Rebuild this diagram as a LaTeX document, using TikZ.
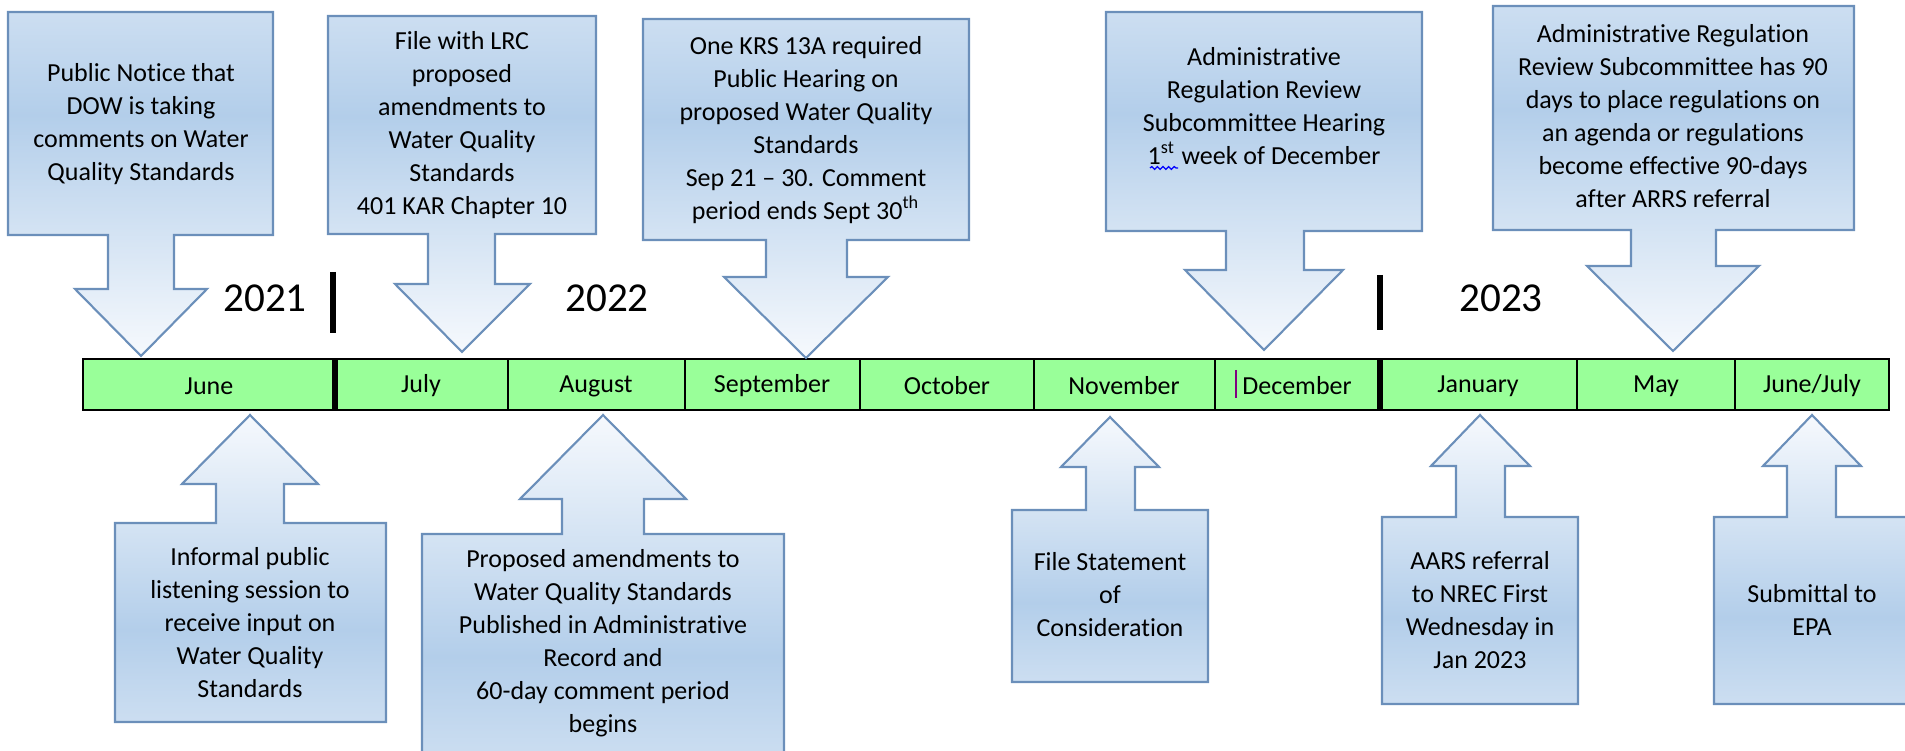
\documentclass[tikz,border=0pt]{standalone}
\usepackage{fontspec}
\setmainfont{Carlito}[Ligatures={NoCommon,NoContextual}]
\usetikzlibrary{decorations.pathmorphing}

\definecolor{calloutline}{HTML}{6B8FBA}
\definecolor{callouttop}{HTML}{CCDEF1}
\definecolor{calloutmid}{HTML}{B3CEEA}
\definecolor{callouttip}{HTML}{F6F9FD}
\definecolor{bargreen}{HTML}{99FF99}
\pgfdeclareverticalshading{calloutshade}{100bp}{color(0bp)=(callouttip); color(25bp)=(callouttip); color(60bp)=(calloutmid); color(75bp)=(callouttop); color(100bp)=(callouttop)}

\tikzset{
  callout/.style={draw=calloutline, line width=0.6pt, shading=calloutshade},
  upcallout/.style={callout, shading angle=180},
  calltext/.style={align=center, font=\fontsize{7.4}{9.4}\selectfont},
  month/.style={font=\fontsize{7.4}{9.4}\selectfont},
  yearlabel/.style={font=\fontsize{11.7}{14}\selectfont},
  yearbar/.style={line width=1.5pt},
}

\begin{document}
\begin{tikzpicture}[x=0.1mm, y=0.1mm]
\tikzstyle{every node}+=[inner sep=0pt]
\useasboundingbox (0,0) rectangle (1905,-751);
\clip (0,0) rectangle (1905,-751);
% timeline bar
\draw [black, fill=bargreen, line width=0.75pt] (83,-359) rectangle (1889,-410);
\draw [black, line width=0.4pt] (508,-359) -- (508,-410) (685,-359) -- (685,-410) (860,-359) -- (860,-410) (1034,-359) -- (1034,-410) (1215,-359) -- (1215,-410) (1577,-359) -- (1577,-410) (1735,-359) -- (1735,-410);
\draw [black, line width=1.6pt] (335,-359) -- (335,-410) (1380,-359) -- (1380,-410);
\node [month] (jun) at (209,-386) {June};
\node [month] (jul) at (421,-386) {July};
\node [month] (aug) at (596,-386) {August};
\node [month] (sep) at (772,-386) {September};
\node [month] (oct) at (947,-386) {October};
\node [month] (nov) at (1124,-386) {November};
\node [month] (dec) at (1297,-386) {December};
\node [month] (jan) at (1478,-386) {January};
\node [month] (may) at (1656,-386) {May};
\node [month] (junjul) at (1812,-386) {June/July};
\draw [violet, line width=0.4pt] (1236,-370) -- (1236,-398);
% years
\node [yearlabel] (y2021) at (265,-298) {2021};
\node [yearlabel] (y2022) at (607,-298) {2022};
\node [yearlabel] (y2023) at (1501,-298) {2023};
\draw [yearbar] (333,-272) -- (333,-333);
\draw [yearbar] (1380,-275) -- (1380,-330);
% callouts above
\draw [callout] (8,-12) -- (273,-12) -- (273,-235) -- (174,-235) -- (174,-289) -- (207,-289) -- (141,-356) -- (75,-289) -- (108,-289) -- (108,-235) -- (8,-235) -- cycle;
\node [calltext] (pubnotice) at (141,-124) {Public Notice that\\DOW is taking\\comments on Water\\Quality Standards};
\draw [callout] (328,-16) -- (596,-16) -- (596,-234) -- (495,-234) -- (495,-284) -- (530,-284) -- (462,-352) -- (395,-284) -- (428,-284) -- (428,-234) -- (328,-234) -- cycle;
\node [calltext] (filelrc) at (462,-125) {File with LRC\\proposed\\amendments to\\Water Quality\\Standards\\401 KAR Chapter 10};
\draw [callout] (643,-19) -- (969,-19) -- (969,-240) -- (847,-240) -- (847,-277) -- (888,-277) -- (806,-358) -- (724,-277) -- (766,-277) -- (766,-240) -- (643,-240) -- cycle;
\node [calltext] (hearing) at (806,-130) {One KRS 13A required\\Public Hearing on\\proposed Water Quality\\Standards\\Sep 21 – 30. Comment\\period ends Sept 30\textsuperscript{th}};
\draw [callout] (1106,-12) -- (1422,-12) -- (1422,-231) -- (1304,-231) -- (1304,-270) -- (1343,-270) -- (1264,-350) -- (1185,-270) -- (1226,-270) -- (1226,-231) -- (1106,-231) -- cycle;
\node [calltext] (arrshearing) at (1264,-106) {Administrative\\Regulation Review\\Subcommittee Hearing\\1\textsuperscript{st} week of December};
\draw [blue, line width=0.35pt, decorate, decoration={snake, segment length=1.6pt, amplitude=0.4pt}] (1150,-168) -- (1178,-168);
\draw [callout] (1493,-6) -- (1854,-6) -- (1854,-230) -- (1716,-230) -- (1716,-266) -- (1759,-266) -- (1673,-351) -- (1587,-266) -- (1631,-266) -- (1631,-230) -- (1493,-230) -- cycle;
\node [calltext] (arrsreview) at (1673,-116) {Administrative Regulation\\Review Subcommittee has 90\\days to place regulations on\\an agenda or regulations\\become effective 90-days\\after ARRS referral};
% callouts below
\draw [upcallout] (250,-415) -- (318,-484) -- (284,-484) -- (284,-523) -- (386,-523) -- (386,-722) -- (115,-722) -- (115,-523) -- (216,-523) -- (216,-484) -- (182,-484) -- cycle;
\node [calltext] (listening) at (250,-623) {Informal public\\listening session to\\receive input on\\Water Quality\\Standards};
\draw [upcallout] (603,-415) -- (686,-499) -- (644,-499) -- (644,-534) -- (784,-534) -- (784,-760) -- (422,-760) -- (422,-534) -- (562,-534) -- (562,-499) -- (520,-499) -- cycle;
\node [calltext] (published) at (603,-643) {Proposed amendments to\\Water Quality Standards\\Published in Administrative\\Record and\\60-day comment period\\begins};
\draw [upcallout] (1110,-417) -- (1159,-467) -- (1135,-467) -- (1135,-510) -- (1208,-510) -- (1208,-682) -- (1012,-682) -- (1012,-510) -- (1086,-510) -- (1086,-467) -- (1061,-467) -- cycle;
\node [calltext] (statement) at (1110,-595) {File Statement\\of\\Consideration};
\draw [upcallout] (1480,-415) -- (1530,-466) -- (1505,-466) -- (1505,-517) -- (1578,-517) -- (1578,-704) -- (1382,-704) -- (1382,-517) -- (1456,-517) -- (1456,-466) -- (1431,-466) -- cycle;
\node [calltext] (referral) at (1480,-610) {AARS referral\\to NREC First\\Wednesday in\\Jan 2023};
\draw [upcallout] (1812,-415) -- (1861,-466) -- (1836,-466) -- (1836,-517) -- (1910,-517) -- (1910,-704) -- (1714,-704) -- (1714,-517) -- (1787,-517) -- (1787,-466) -- (1763,-466) -- cycle;
\node [calltext] (submittal) at (1812,-610) {Submittal to\\EPA};
\end{tikzpicture}
\end{document}
